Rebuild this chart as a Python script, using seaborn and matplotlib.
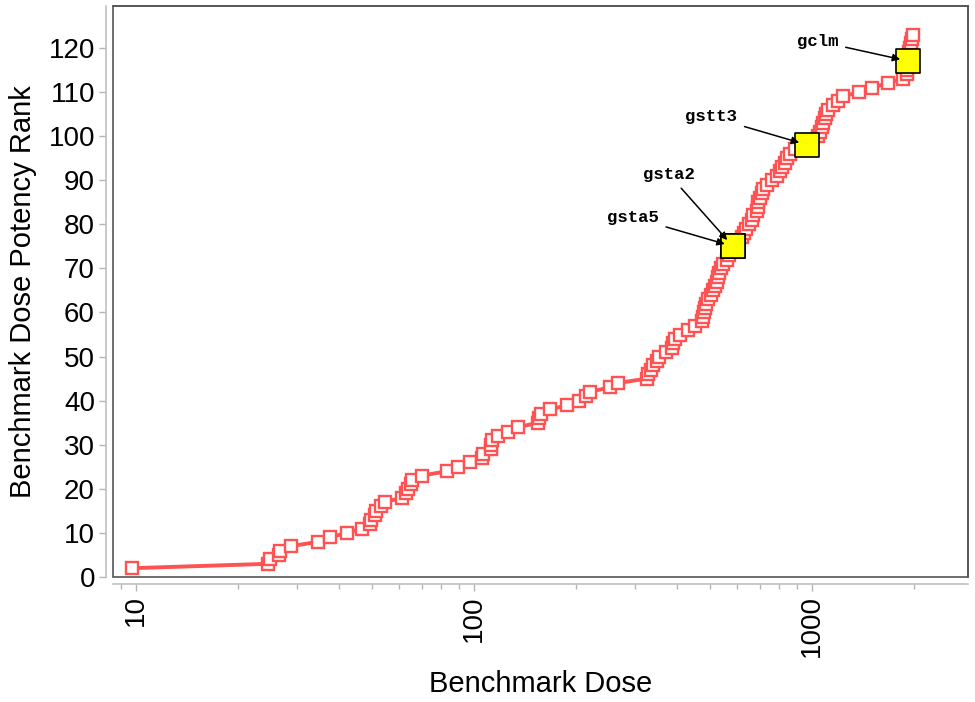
import matplotlib
matplotlib.use('Agg')
import matplotlib.pyplot as plt
import numpy as np
import pandas as pd
import seaborn as sns
from matplotlib.patches import Rectangle
from matplotlib.ticker import LogLocator, NullFormatter, FixedLocator

# benchmark dose (x) and potency rank (y)
bmd = [9.7, 24.6, 24.9, 26.5, 26.7, 28.7, 34.6, 37.5, 42, 46.5,
       49.4, 49.7, 51, 51.3, 53, 54.6, 61.1, 63, 64, 65,
       65.7, 70, 83.4, 89.9, 97.3, 105.4, 106, 112, 112.5, 113,
       118, 126, 135, 155, 156, 158, 168, 189, 204, 214,
       220, 252, 267, 324, 327, 335, 339, 347, 353, 371,
       385, 387, 393, 407, 431, 451, 472, 475, 479, 483,
       486, 493, 501, 510, 518, 522, 527, 532, 537, 546,
       560, 570, 578, 583, 585, 620, 630, 640, 649, 663,
       670, 686, 690, 693, 702, 710, 718, 735, 760, 786,
       804, 813, 832, 841, 861, 890, 968, 1000, 1043, 1056,
       1068, 1080, 1090, 1099, 1117, 1150, 1196, 1238, 1381, 1503,
       1683, 1864, 1906, 1915, 1920, 1928, 1935, 1940, 1950, 1965,
       1980, 1995]
rank = list(range(2, 124))

genes = ['gsta5', 'gsta2', 'gstt3', 'gclm']
gene_bmd = [583, 583, 968, 1928]
gene_rank = [75, 75, 98, 117]
# label offsets (pixels) from the highlighted point
label_dx = [-74, -38, -70, -70]
label_dy = [29, 72, 28, 20]

df = pd.DataFrame({'bmd': bmd, 'rank': rank})
hl = pd.DataFrame({'bmd': gene_bmd, 'rank': gene_rank, 'gene': genes})

sns.set_theme(style='white')
plt.rcParams['font.family'] = ['Liberation Sans', 'DejaVu Sans']
plt.rcParams['text.color'] = 'black'
plt.rcParams['axes.labelcolor'] = 'black'

red = '#FF5252'
fig = plt.figure(figsize=(9.75, 7.02), dpi=100)
ax = fig.add_axes([0.1159, 0.178, 0.8769, 0.8135])

sns.lineplot(data=df, x='bmd', y='rank', sort=False, estimator=None, ax=ax,
             color=red, lw=2.8, marker='s', markersize=8,
             markerfacecolor='white', markeredgecolor=red, markeredgewidth=1.7)
sns.scatterplot(data=hl, x='bmd', y='rank', ax=ax, marker='s', s=300,
                color='#FFFF00', edgecolor='black', linewidth=1.2, zorder=4)

for g, x, y, dx, dy in zip(genes, gene_bmd, gene_rank, label_dx, label_dy):
    ax.annotate(g, xy=(x, y), xytext=(dx, dy), textcoords='offset pixels',
                ha='right', va='center', fontsize=12.5, fontweight='bold',
                family=['Liberation Mono', 'DejaVu Sans Mono'],
                arrowprops=dict(arrowstyle='-|>', color='black', lw=1.1,
                                mutation_scale=11, shrinkA=3, shrinkB=6),
                zorder=5)

ax.set_xscale('log')
ax.set_xlim(8.55, 2894)
ax.set_ylim(0, 129.5)
ax.yaxis.set_major_locator(FixedLocator(np.arange(0, 130, 10)))
ax.xaxis.set_major_locator(FixedLocator([10, 100, 1000]))
ax.xaxis.set_minor_locator(LogLocator(base=10, subs=np.arange(2, 10), numticks=20))
ax.xaxis.set_minor_formatter(NullFormatter())
ax.set_xticklabels(['10', '100', '1000'])

ax.set_xlabel('Benchmark Dose', fontsize=21, labelpad=9)
ax.set_ylabel('Benchmark Dose Potency Rank', fontsize=21, labelpad=8)
ax.tick_params(axis='both', which='major', labelsize=20, length=5, width=1,
               color='#b5b5b5', labelcolor='black', direction='out',
               bottom=True, left=True, pad=3)
ax.tick_params(axis='x', which='minor', length=3.5, width=1, color='#b5b5b5', bottom=True)
ax.tick_params(axis='x', which='major', labelrotation=90)

for side in ['left', 'bottom']:
    ax.spines[side].set_position(('outward', 5))
    ax.spines[side].set_color('#c0c0c0')
    ax.spines[side].set_linewidth(1.2)
for side in ['top', 'right']:
    ax.spines[side].set_color('#555555')
    ax.spines[side].set_linewidth(1.2)
ax.add_patch(Rectangle((0, 0), 1, 1, transform=ax.transAxes, fill=False,
                       edgecolor='#555555', lw=1.2, clip_on=False, zorder=6))

fig.savefig('out.png', dpi=100)
